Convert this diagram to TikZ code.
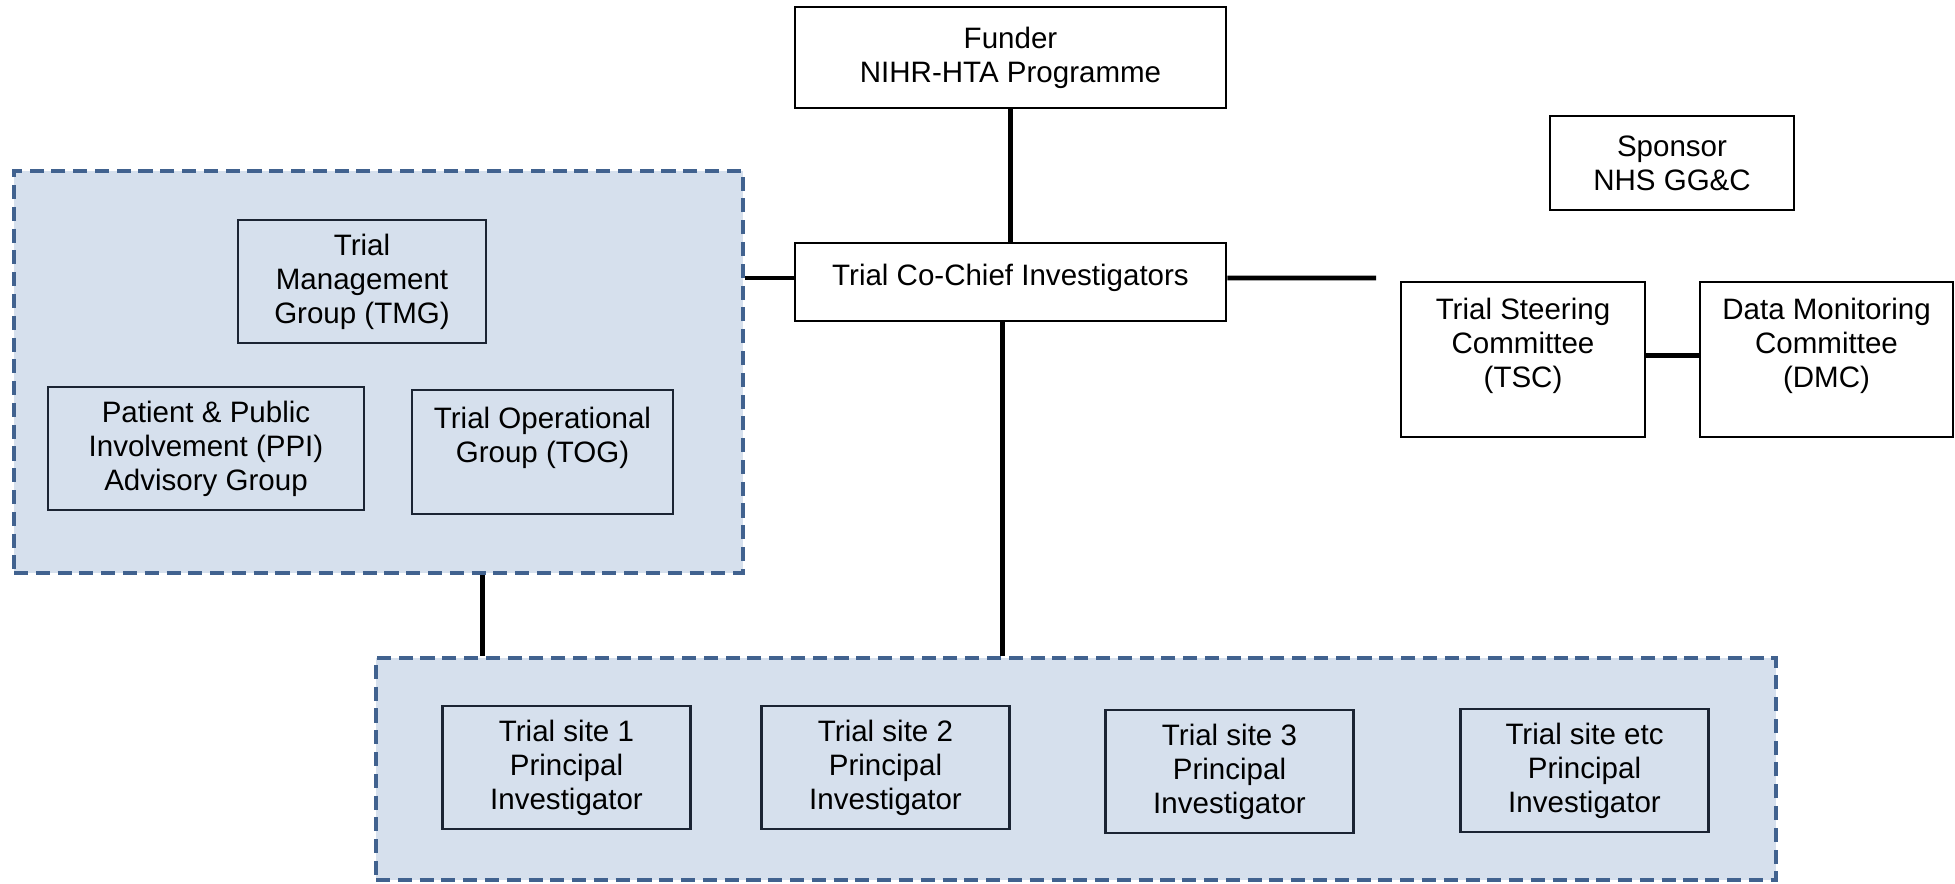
\documentclass[tikz,border=0pt]{standalone}
\usepackage{fontspec}
\setmainfont{Liberation Sans}
\definecolor{groupFill}{HTML}{D6E0ED}
\definecolor{groupEdge}{HTML}{41628F}
\definecolor{innerEdge}{HTML}{1B2433}
\tikzset{
  orgbox/.style={draw=black,line width=0.8pt,fill=white,align=center,
    inner sep=0pt,font=\fontsize{8.4}{9.7}\selectfont},
  innerbox/.style={orgbox,draw=innerEdge,fill=none},
  groupbox/.style={draw=groupEdge,fill=groupFill,line width=1.2pt,
    dash pattern=on 4pt off 2.2pt},
  link/.style={draw=black,line width=1.4pt}
}

\begin{document}
\begin{tikzpicture}[x=1cm,y=1cm]
\useasboundingbox (0,0) rectangle (19.55,8.83);

% Dashed groups first, so the boxes sit on top of them.
\node[groupbox,minimum width=7.29cm,minimum height=4.02cm] (mgmt) at (3.785,5.11) {};
\node[groupbox,minimum width=14.00cm,minimum height=2.22cm] (sites) at (10.76,1.14) {};

% Top row: funder, chief investigators, sponsor and committees.
\node[orgbox,minimum width=4.31cm,minimum height=1.01cm] (funder) at (10.105,8.255)
  {Funder\\NIHR-HTA Programme};
\node[orgbox,minimum width=4.31cm,minimum height=0.78cm] (cochief) at (10.105,6.01)
  {Trial Co-Chief Investigators\\[-0.2cm]\mbox{}};
\node[orgbox,minimum width=2.44cm,minimum height=0.94cm] (sponsor) at (16.72,7.20)
  {Sponsor\\NHS GG\&C};
\node[orgbox,minimum width=2.44cm,minimum height=1.55cm] (tsc) at (15.23,5.235)
  {Trial Steering\\Committee\\(TSC)\\\mbox{}};
\node[orgbox,minimum width=2.53cm,minimum height=1.55cm] (dmc) at (18.265,5.235)
  {Data Monitoring\\Committee\\(DMC)\\\mbox{}};

% Groups inside the management panel.
\node[innerbox,minimum width=2.48cm,minimum height=1.23cm] (tmg) at (3.62,6.015)
  {Trial\\Management\\Group (TMG)};
\node[innerbox,minimum width=3.16cm,minimum height=1.23cm] (ppi) at (2.06,4.345)
  {Patient \& Public\\Involvement (PPI)\\Advisory Group};
\node[innerbox,minimum width=2.61cm,minimum height=1.24cm] (tog) at (5.425,4.31)
  {Trial Operational\\Group (TOG)\\\mbox{}};

% Recruiting sites.
\foreach \x/\y/\id/\num in {5.665/1.155/1/1,8.855/1.155/2/2,12.295/1.115/3/3,15.845/1.125/etc/etc} {
  \node[innerbox,minimum width=2.48cm,minimum height=1.23cm] (site\id) at (\x,\y)
    {Trial site \num\\Principal\\Investigator};
}

% Connectors.
\coordinate (tscstub) at (13.76,6.05);
\coordinate (chieffoot) at ([xshift=-0.08cm]cochief.south);
\coordinate (mgmtfoot) at ([xshift=1.04cm]mgmt.south);
\coordinate (tscside) at ([yshift=0.04cm]tsc.east);
\draw[link] (funder.south) -- (cochief.north);
\draw[link] ([yshift=0.04cm]cochief.west) -- ([yshift=0.04cm]cochief.west -| mgmt.east);
\draw[link] ([yshift=0.04cm]cochief.east) -- (tscstub);
\draw[link] (tscside) -- (tscside -| dmc.west);
\draw[link] (chieffoot) -- (chieffoot |- sites.north);
\draw[link] (mgmtfoot) -- (mgmtfoot |- sites.north);

\end{tikzpicture}
\end{document}
